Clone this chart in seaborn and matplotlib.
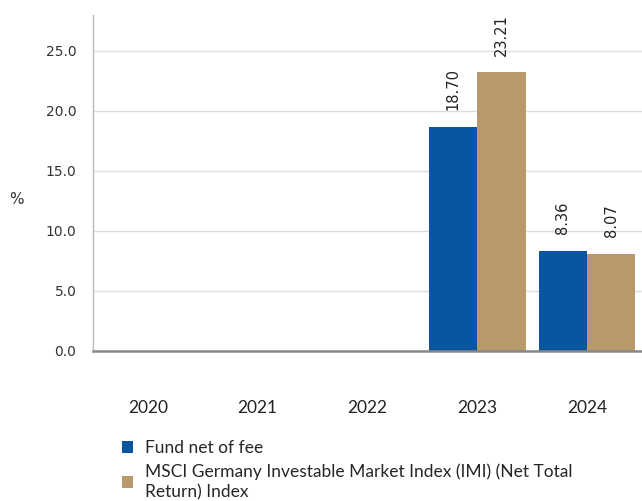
import numpy as np
import pandas as pd
import matplotlib
matplotlib.use("Agg")
import matplotlib.pyplot as plt
import seaborn as sns
from matplotlib.patches import Patch

years = ["2020", "2021", "2022", "2023", "2024"]
fund = [np.nan, np.nan, np.nan, 18.70, 8.36]
index = [np.nan, np.nan, np.nan, 23.21, 8.07]
series_names = ["Fund net of fee",
                "MSCI Germany Investable Market Index (IMI) (Net Total\nReturn) Index"]
colors = ["#0A559F", "#B8996B"]
yticks = [0, 5, 10, 15, 20, 25]

df = pd.DataFrame({
    "year": years * 2,
    "value": fund + index,
    "series": [series_names[0]] * 5 + [series_names[1]] * 5,
})

sns.set_style("white")
plt.rcParams["font.family"] = ["Lato", "DejaVu Sans"]

fig = plt.figure(figsize=(6.42, 5.01), dpi=100)
ax = fig.add_axes([93 / 642, 1 - 351 / 501, 549 / 642, 336 / 501])

sns.barplot(data=df, x="year", y="value", hue="series", palette=colors,
            saturation=1, width=0.88, legend=False, ax=ax, linewidth=0)

ax.set_ylim(0, 28)
ax.set_xlim(-0.5, 4.5)
ax.set_yticks(yticks)
ax.set_yticklabels([f"{v:.1f}" for v in yticks], fontsize=10, color="#333333",
                   family=["DejaVu Sans"])
ax.tick_params(axis="y", length=0, pad=12)
ax.tick_params(axis="x", length=0, pad=35, labelsize=12.5, labelcolor="#222222")
ax.yaxis.grid(True, color="#dddddd", linewidth=1)
ax.set_axisbelow(True)
ax.set_xlabel("")
ax.set_ylabel("%", rotation=0, fontsize=11, color="#333333",
              family=["DejaVu Sans"])
ax.yaxis.set_label_coords(-0.14, 0.43)

for s in ["top", "right"]:
    ax.spines[s].set_visible(False)
ax.spines["left"].set_color("#bbbbbb")
ax.spines["left"].set_linewidth(1)
ax.spines["bottom"].set_color("#888888")
ax.spines["bottom"].set_linewidth(1.8)

for cont in ax.containers:
    for bar in cont:
        if bar is None:
            continue
        h = bar.get_height()
        if np.isnan(h):
            continue
        ax.annotate(f"{h:.2f}", (bar.get_x() + bar.get_width() / 2, h),
                    xytext=(0, 12), textcoords="offset points", rotation=90,
                    ha="center", va="bottom", fontsize=10.5, color="#222222",
                    family=["DejaVu Sans"])

handles = [Patch(facecolor=c, edgecolor="none") for c in colors]
leg = fig.legend(handles, series_names, loc="upper left",
                 bbox_to_anchor=(122 / 642, 1 - 440 / 501), frameon=False,
                 fontsize=12.5, handlelength=0.65, handleheight=0.65,
                 handletextpad=0.7, labelspacing=0.4, borderpad=0,
                 borderaxespad=0)
for t in leg.get_texts():
    t.set_linespacing(1.35)

fig.savefig("out.png", dpi=100)
